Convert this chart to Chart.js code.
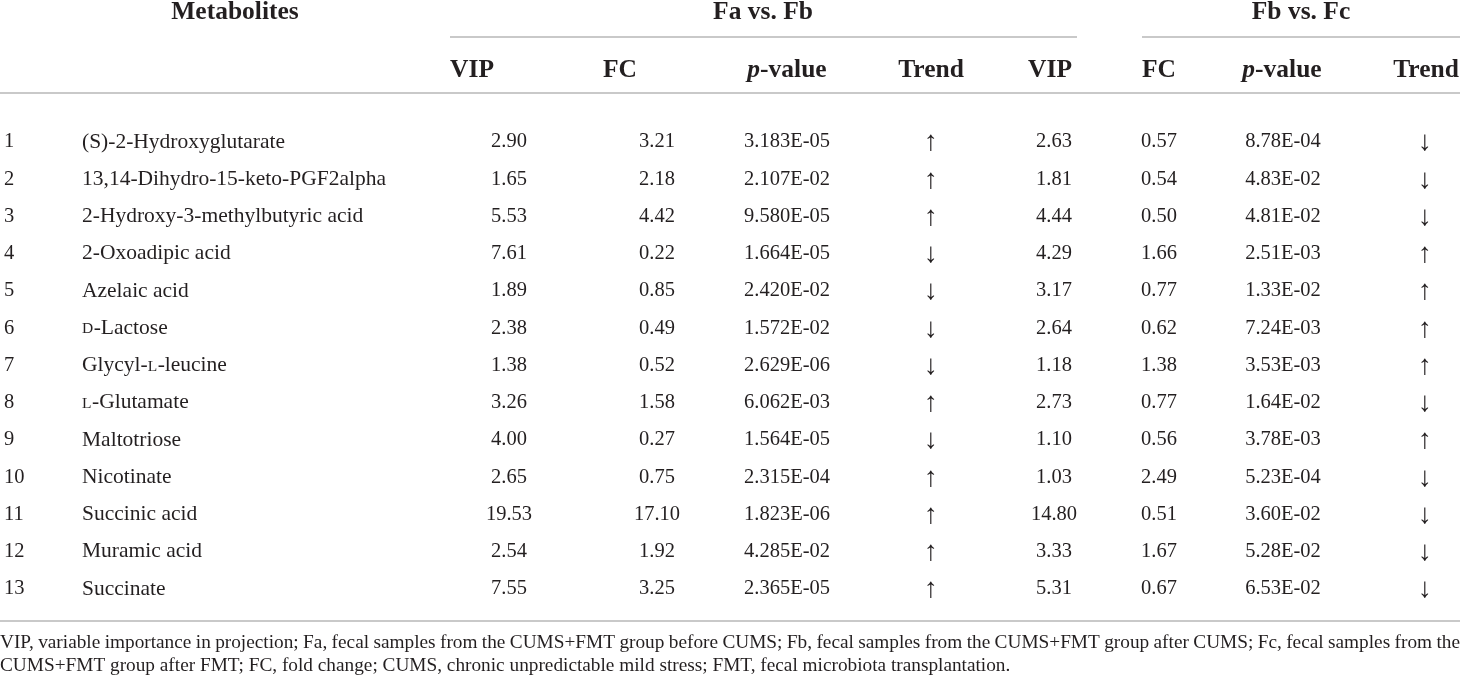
<!DOCTYPE html>
<html>
<head>
<meta charset="utf-8">
<script src="https://cdn.jsdelivr.net/npm/chart.js@4.4.1/dist/chart.umd.min.js"></script>
<style>
    html, body { margin: 0; padding: 0; background: #fff; }
    #wrap { width: 1460px; height: 680px; }
</style>
</head>
<body>
<div id="wrap"><canvas id="tableChart"></canvas></div>
<script>
// table data
const rowNumbers = ["1", "2", "3", "4", "5", "6", "7", "8", "9", "10", "11", "12", "13"];
const metabolites = [
    "(S)-2-Hydroxyglutarate",
    "13,14-Dihydro-15-keto-PGF2alpha",
    "2-Hydroxy-3-methylbutyric acid",
    "2-Oxoadipic acid",
    "Azelaic acid",
    "D-Lactose",
    "Glycyl-L-leucine",
    "L-Glutamate",
    "Maltotriose",
    "Nicotinate",
    "Succinic acid",
    "Muramic acid",
    "Succinate",
];
// Fa vs. Fb
const abVip = [2.90, 1.65, 5.53, 7.61, 1.89, 2.38, 1.38, 3.26, 4.00, 2.65, 19.53, 2.54, 7.55];
const abFc = [3.21, 2.18, 4.42, 0.22, 0.85, 0.49, 0.52, 1.58, 0.27, 0.75, 17.10, 1.92, 3.25];
const abP = ["3.183E-05", "2.107E-02", "9.580E-05", "1.664E-05", "2.420E-02", "1.572E-02", "2.629E-06",
    "6.062E-03", "1.564E-05", "2.315E-04", "1.823E-06", "4.285E-02", "2.365E-05"];
const abTrend = ["↑", "↑", "↑", "↓", "↓", "↓", "↓", "↑", "↓", "↑", "↑", "↑", "↑"];
// Fb vs. Fc
const bcVip = [2.63, 1.81, 4.44, 4.29, 3.17, 2.64, 1.18, 2.73, 1.10, 1.03, 14.80, 3.33, 5.31];
const bcFc = [0.57, 0.54, 0.50, 1.66, 0.77, 0.62, 1.38, 0.77, 0.56, 2.49, 0.51, 1.67, 0.67];
const bcP = ["8.78E-04", "4.83E-02", "4.81E-02", "2.51E-03", "1.33E-02", "7.24E-03", "3.53E-03",
    "1.64E-02", "3.78E-03", "5.23E-04", "3.60E-02", "5.28E-02", "6.53E-02"];
const bcTrend = ["↓", "↓", "↓", "↑", "↑", "↑", "↑", "↓", "↑", "↓", "↓", "↓", "↓"];

const groupHeaders = ["Metabolites", "Fa vs. Fb", "Fb vs. Fc"];
const subHeaders = ["VIP", "FC", "p-value", "Trend", "VIP", "FC", "p-value", "Trend"];
const footnote = [
    "VIP, variable importance in projection; Fa, fecal samples from the CUMS+FMT group before CUMS; Fb, fecal samples from the CUMS+FMT group after CUMS; Fc, fecal samples from the",
    "CUMS+FMT group after FMT; FC, fold change; CUMS, chronic unpredictable mild stress; FMT, fecal microbiota transplantation.",
];

// layout / style
const SERIF = '"Liberation Serif", "Times New Roman", serif';
const INK = "#231f20";
const RULE = "#c9c9c9";
const bodyFont = "20.5px " + SERIF;
const nameFont = "21.5px " + SERIF;
const capFont = "15.5px " + SERIF;
const arrowFont = "28px " + SERIF;
const headFont = "bold 25.5px " + SERIF;
const noteFont = "19.3px " + SERIF;

const fix2 = (v) => v.toFixed(2);

const columns = [
    { texts: rowNumbers, x: 4, align: "left" },
    { texts: metabolites, x: 82, align: "left", smallCaps: true },
    { texts: abVip.map(fix2), x: 509 },
    { texts: abFc.map(fix2), x: 657 },
    { texts: abP, x: 787 },
    { texts: abTrend, x: 931, arrow: true },
    { texts: bcVip.map(fix2), x: 1054 },
    { texts: bcFc.map(fix2), x: 1159 },
    { texts: bcP, x: 1283 },
    { texts: bcTrend, x: 1425, arrow: true },
];
const groupHeaderX = [235, 763, 1301];
const subHeaderX = [472, 620, 787, 931, 1050, 1159, 1282, 1426];
const groupRules = [[450, 1077], [1142, 1460]];
const frame = { head1: 12, rule1: 37, head2: 70, rule2: 93, bottom: 621, notes: [643, 666] };

// D-/L- prefixes are set in small caps
function drawName(ctx, text, x, y) {
    const parts = text.split(/((?:^|-)[DL](?=-))/).filter((s) => s.length);
    let cx = x;
    parts.forEach((p) => {
        const m = p.match(/^(-?)([DL])$/);
        if (m) {
            ctx.font = nameFont;
            ctx.fillText(m[1], cx, y);
            cx += ctx.measureText(m[1]).width;
            ctx.font = capFont;
            ctx.fillText(m[2], cx, y + 1);
            cx += ctx.measureText(m[2]).width + 0.5;
        } else {
            ctx.font = nameFont;
            ctx.fillText(p, cx, y);
            cx += ctx.measureText(p).width;
        }
    });
}

function drawHeader(ctx, text, x, y) {
    if (text.startsWith("p-")) {
        ctx.font = "italic " + headFont;
        const w1 = ctx.measureText("p").width;
        ctx.font = headFont;
        const w2 = ctx.measureText(text.slice(1)).width;
        const left = x - (w1 + w2) / 2;
        ctx.textAlign = "left";
        ctx.font = "italic " + headFont;
        ctx.fillText("p", left, y);
        ctx.font = headFont;
        ctx.fillText(text.slice(1), left + w1, y);
        ctx.textAlign = "center";
    } else {
        ctx.font = headFont;
        ctx.fillText(text, x, y);
    }
}

function justify(ctx, line, x0, x1, y) {
    const words = line.split(" ");
    const total = words.reduce((s, w) => s + ctx.measureText(w).width, 0);
    const gap = (x1 - x0 - total) / (words.length - 1);
    let cx = x0;
    words.forEach((w) => {
        ctx.fillText(w, cx, y);
        cx += ctx.measureText(w).width + gap;
    });
}

const tablePlugin = {
    id: "tablePlugin",
    afterDatasetsDraw(chart) {
        const ctx = chart.ctx;
        const xs = chart.scales.x;
        const W = chart.width;
        ctx.save();
        ctx.fillStyle = INK;
        ctx.textBaseline = "middle";

        // rules
        ctx.strokeStyle = RULE;
        ctx.lineWidth = 2;
        const hline = (a, b, y) => {
            ctx.beginPath();
            ctx.moveTo(xs.getPixelForValue(a), y);
            ctx.lineTo(xs.getPixelForValue(b), y);
            ctx.stroke();
        };
        groupRules.forEach((r) => hline(r[0], r[1], frame.rule1));
        hline(0, 1460, frame.rule2);
        hline(0, 1460, frame.bottom);

        // headers
        ctx.textAlign = "center";
        groupHeaders.forEach((h, i) => drawHeader(ctx, h, xs.getPixelForValue(groupHeaderX[i]), frame.head1));
        subHeaders.forEach((h, i) => drawHeader(ctx, h, xs.getPixelForValue(subHeaderX[i]), frame.head2));

        // cells
        chart.data.datasets.forEach((ds, di) => {
            const meta = chart.getDatasetMeta(di);
            ctx.textAlign = ds.align || "center";
            meta.data.forEach((pt, i) => {
                if (ds.smallCaps) {
                    drawName(ctx, ds.texts[i], pt.x, pt.y);
                } else {
                    ctx.font = ds.arrow ? arrowFont : bodyFont;
                    ctx.fillText(ds.texts[i], pt.x, pt.y + (ds.arrow ? 1 : 0));
                }
            });
        });

        // footnote
        ctx.textAlign = "left";
        ctx.font = noteFont;
        justify(ctx, footnote[0], 0, W, frame.notes[0]);
        ctx.fillText(footnote[1], 0, frame.notes[1]);
        ctx.restore();
    },
};

const tableConfig = {
    type: "scatter",
    data: {
        datasets: columns.map((c) => ({
            data: rowNumbers.map((r) => ({ x: c.x, y: r })),
            texts: c.texts,
            align: c.align,
            smallCaps: c.smallCaps,
            arrow: c.arrow,
            pointRadius: 0,
            pointHoverRadius: 0,
        })),
    },
    options: {
        responsive: true,
        maintainAspectRatio: false,
        animation: false,
        events: [],
        layout: { padding: { top: 123.4, bottom: 72.4, left: 0, right: 0 } },
        scales: {
            x: { type: "linear", min: 0, max: 1460, display: false },
            y: { type: "category", labels: rowNumbers, offset: true, display: false },
        },
        plugins: {
            legend: { display: false },
            tooltip: { enabled: false },
        },
    },
    plugins: [tablePlugin],
};

const metaboliteTable = new Chart(document.getElementById("tableChart"), tableConfig);
</script>
</body>
</html>
